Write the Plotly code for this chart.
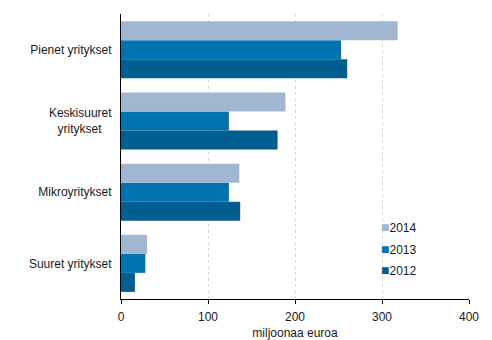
import plotly.graph_objects as go

categories = ["Pienet yritykset", "Keskisuuret<br>yritykset\u00a0\u00a0\u00a0", "Mikroyritykset", "Suuret yritykset"]
years = ["2012", "2013", "2014"]
values_2012 = [260, 180, 137, 16]
values_2013 = [253, 124, 124, 28]
values_2014 = [318, 189, 136, 30]
colors = {"2012": "#005E91", "2013": "#0072B0", "2014": "#A1B6D1"}
series = {"2012": values_2012, "2013": values_2013, "2014": values_2014}
legend_y = {"2014": 0.253, "2013": 0.176, "2012": 0.102}

fig = go.Figure()
for y in years:
    fig.add_trace(go.Bar(
        y=categories, x=series[y], name=y, orientation="h",
        marker=dict(color=colors[y], line=dict(width=0)),
        showlegend=False,
    ))
    fig.add_annotation(
        xref="paper", yref="paper", x=0.742, y=legend_y[y], xanchor="left", yanchor="middle",
        showarrow=False,
        text=f"<span style='font-size:14px;color:{colors[y]}'>■</span>{y}",
        font=dict(size=12, color="#1a1a1a"),
    )

fig.update_layout(
    width=492, height=340,
    margin=dict(l=121, r=23, t=14, b=41),
    paper_bgcolor="white", plot_bgcolor="white",
    barmode="group", bargap=0.2, bargroupgap=0,
    font=dict(family="Liberation Sans, Arial, sans-serif", size=12, color="#1a1a1a"),
    xaxis=dict(range=[0, 400], tickvals=[0, 100, 200, 300, 400], showgrid=True,
               gridcolor="#d9d9d9", griddash="dot", gridwidth=1,
               showline=True, linecolor="black", linewidth=1,
               ticks="outside", ticklen=4, tickcolor="black", zeroline=False,
               ticklabelstandoff=3, automargin=False,
               title=dict(text="miljoonaa euroa", standoff=7, font=dict(size=12))),
    yaxis=dict(categoryorder="array", categoryarray=list(reversed(categories)),
               showline=True, linecolor="black", linewidth=1, ticks="", showgrid=False,
               ticklabelstandoff=6, automargin=False),
)

fig.write_html("out.html")
